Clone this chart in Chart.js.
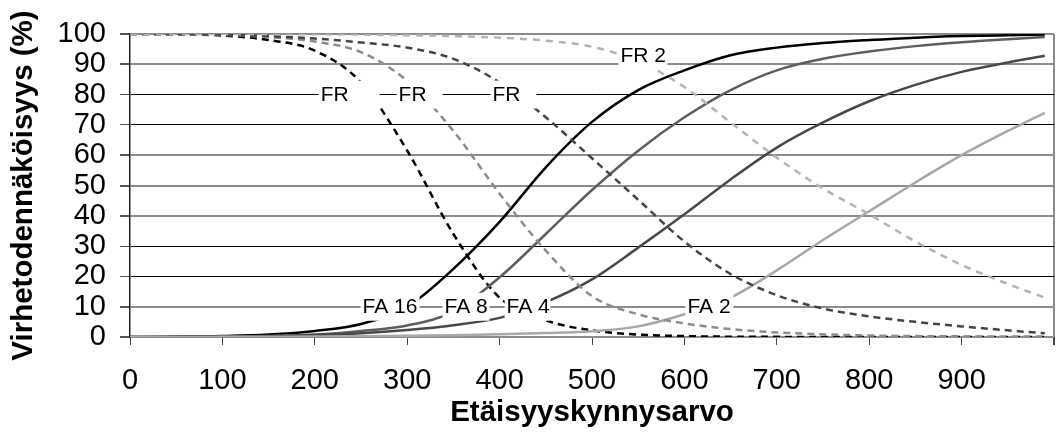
<!DOCTYPE html>
<html>
<head>
<meta charset="utf-8">
<script src="https://cdn.jsdelivr.net/npm/chart.js@4.4.1/dist/chart.umd.min.js"></script>
<style>
  html, body { margin: 0; padding: 0; background: #fff; }
  #c { display: block; }
</style>
</head>
<body>
<canvas id="c" width="1058" height="435"></canvas>
<script>
// Distance threshold values (x) shared by every curve
const thresholds = [0, 50, 100, 150, 200, 250, 300, 350, 400, 450, 500, 550, 600, 650, 700, 750, 800, 850, 900, 950, 990];

// False acceptance (FA) curves, percent
const fa16 = [0, 0.1, 0.3, 0.8, 2.0, 4.3, 10, 22.5, 38, 56, 71, 81.5, 88, 93, 95.5, 97, 98, 98.8, 99.3, 99.6, 99.8];
const fa8  = [0, 0.05, 0.15, 0.35, 0.8, 2.0, 3.8, 8.4, 19.7, 34, 48.5, 61.5, 72.5, 81.5, 88, 91.8, 94.2, 96, 97.3, 98.3, 99.0];
const fa4  = [0, 0.05, 0.1, 0.25, 0.6, 1.2, 2.3, 3.9, 6.3, 11.5, 19, 29.5, 40.5, 52, 62.5, 70.8, 77.8, 83.2, 87.5, 90.6, 92.8];
const fa2  = [0, 0, 0.05, 0.1, 0.15, 0.25, 0.4, 0.6, 0.9, 1.3, 1.9, 3.5, 7.5, 13, 22, 32, 41.5, 51, 60, 68, 74];

// False rejection (FR) curves, percent
const fr16 = [100, 99.9, 99.5, 98, 94.5, 84, 61.5, 34, 13, 5.5, 2.2, 0.8, 0.3, 0.1, 0.05, 0, 0, 0, 0, 0, 0];
const fr8  = [100, 99.9, 99.7, 99, 97.5, 94, 84.5, 68, 47.3, 28.5, 13.5, 7.5, 4.5, 2.6, 1.5, 0.9, 0.5, 0.3, 0.2, 0.1, 0.1];
const fr4  = [100, 100, 99.8, 99.3, 98.5, 97.2, 95.5, 91.8, 84, 72.5, 59, 45.3, 31.5, 20.8, 13.8, 9.4, 6.8, 5.0, 3.5, 2.2, 1.2];
const fr2  = [100, 100, 100, 99.95, 99.9, 99.8, 99.6, 99.3, 98.8, 97.8, 95.8, 91, 82.5, 70.8, 59.2, 49, 40.5, 31.5, 23.8, 17.5, 13];

// Axis ticks
const xTicks = [0, 100, 200, 300, 400, 500, 600, 700, 800, 900];
const yTicks = [0, 10, 20, 30, 40, 50, 60, 70, 80, 90, 100];

// In-plot curve labels (text, box extent along x, centre on y)
const curveLabels = [
  { text: 'FR',    from: 204.2, to: 270.1, y: 80 },
  { text: 'FR',    from: 288.5, to: 338.2, y: 80 },
  { text: 'FR',    from: 390.2, to: 439.9, y: 80 },
  { text: 'FR 2',  from: 528.6, to: 581.6, y: 93.1 },
  { text: 'FA 16', from: 249.5, to: 313.4, y: 10 },
  { text: 'FA 8',  from: 338.2, to: 389.1, y: 10 },
  { text: 'FA 4',  from: 405.4, to: 455.1, y: 10 },
  { text: 'FA 2',  from: 601.1, to: 653.0, y: 10 }
];

const FONT = '"Liberation Sans", Arial, Helvetica, sans-serif';
const pts = vals => thresholds.map((t, i) => ({ x: t, y: vals[i] }));

function solid(label, vals, color) {
  return { label, data: pts(vals), borderColor: color, borderWidth: 2.5,
           pointRadius: 0, fill: false, cubicInterpolationMode: 'monotone' };
}
function dashed(label, vals, color, dash) {
  return { label, data: pts(vals), borderColor: color, borderWidth: 2.5, borderDash: dash,
           pointRadius: 0, fill: false, cubicInterpolationMode: 'monotone' };
}

const datasets = [
  dashed('FR 2', fr2, '#b4b4b4', [7, 6]),
  dashed('FR 4', fr4, '#444444', [7, 5]),
  dashed('FR 8', fr8, '#8c8c8c', [7, 5]),
  solid('FA 2', fa2, '#a8a8a8'),
  solid('FA 4', fa4, '#484848'),
  solid('FA 8', fa8, '#5e5e5e'),
  dashed('FR 16', fr16, '#000000', [7, 5]),
  solid('FA 16', fa16, '#000000')
];

// Horizontal lines that render as soft grey rather than crisp black
const softLines = [0, 10, 40, 50, 60, 90, 100];

const labelPlugin = {
  id: 'curveLabels',
  afterDatasetsDraw(chart) {
    const { ctx, scales: { x, y } } = chart;
    ctx.save();
    ctx.font = '21px ' + FONT;
    ctx.textBaseline = 'middle';
    ctx.textAlign = 'left';
    curveLabels.forEach(l => {
      const x0 = x.getPixelForValue(l.from);
      const x1 = x.getPixelForValue(l.to);
      const yc = y.getPixelForValue(l.y);
      ctx.fillStyle = '#ffffff';
      ctx.fillRect(x0, yc - 14, x1 - x0, 28);
      ctx.fillStyle = '#000000';
      ctx.fillText(l.text, x0 + 2, yc + 1);
    });
    ctx.restore();
  }
};

new Chart(document.getElementById('c'), {
  type: 'line',
  data: { datasets },
  plugins: [labelPlugin],
  options: {
    responsive: false,
    animation: false,
    layout: { padding: { top: 34, right: 4, left: 2, bottom: 0 } },
    plugins: { legend: { display: false }, tooltip: { enabled: false } },
    scales: {
      x: {
        type: 'linear',
        min: 0,
        max: 1000,
        afterFit: s => { s.height = 98; s.paddingLeft = 0; s.paddingRight = 0; },
        afterBuildTicks: s => { s.ticks = xTicks.concat([1000]).map(v => ({ value: v })); },
        ticks: {
          color: '#000',
          font: { family: FONT, size: 29 },
          padding: 19,
          maxRotation: 0,
          autoSkip: false,
          callback: v => (v === 1000 ? '' : String(v))
        },
        grid: {
          drawOnChartArea: true,
          color: c => (c.tick && c.tick.value === 1000 ? '#8c8c8c' : 'rgba(0,0,0,0)'),
          lineWidth: c => (c.tick && c.tick.value === 1000 ? 2 : 1),
          tickColor: '#444',
          tickLength: 8
        },
        border: { display: false },
        title: {
          display: true,
          text: 'Etäisyyskynnysarvo',
          color: '#000',
          font: { family: FONT, size: 29.5, weight: 'bold' },
          padding: { top: 0, bottom: 4 }
        }
      },
      y: {
        min: 0,
        max: 100,
        afterFit: s => { s.width = 128; },
        afterBuildTicks: s => { s.ticks = yTicks.map(v => ({ value: v })); },
        ticks: {
          color: '#000',
          font: { family: FONT, size: 29 },
          padding: 14,
          autoSkip: false
        },
        grid: {
          color: c => (softLines.includes(c.tick.value) ? '#8c8c8c' : '#000'),
          lineWidth: c => (softLines.includes(c.tick.value) ? 2 : 1),
          tickColor: '#555',
          tickLength: 10
        },
        border: { display: true, color: '#222', width: 1.5 },
        title: {
          display: true,
          text: 'Virhetodennäköisyys (%)',
          color: '#000',
          font: { family: FONT, size: 29.5, weight: 'bold' },
          padding: { top: 4, bottom: 4 }
        }
      }
    }
  }
});
</script>
</body>
</html>
